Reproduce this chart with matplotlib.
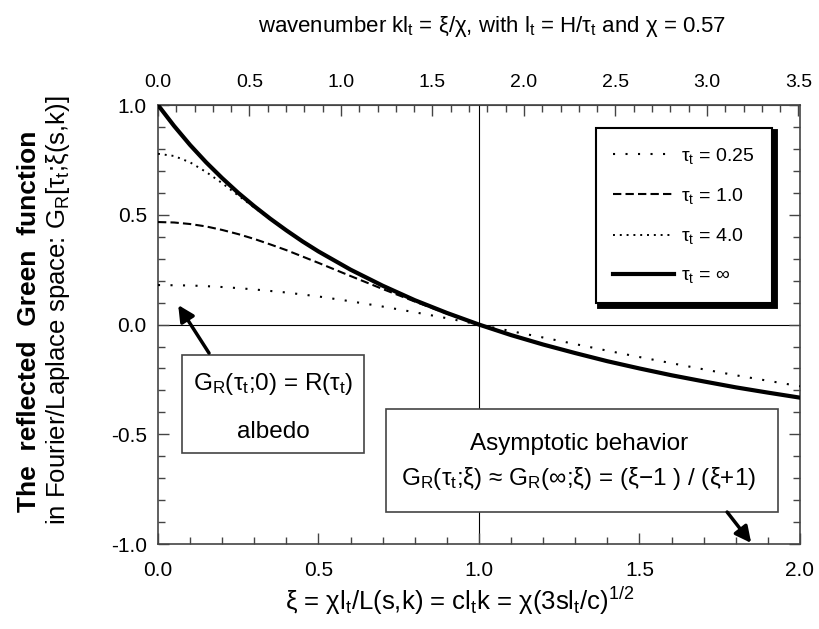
import numpy as np
import matplotlib
matplotlib.use('Agg')
import matplotlib.pyplot as plt
from matplotlib.ticker import MultipleLocator
from matplotlib.patches import Rectangle

plt.rcParams['font.family'] = ['Liberation Sans', 'DejaVu Sans']
plt.rcParams['mathtext.default'] = 'regular'

chi = 0.57

# xi = chi * l_t / L(s,k)
xi = [0.0, 0.05, 0.1, 0.15, 0.2, 0.25, 0.3, 0.35, 0.4, 0.45, 0.5, 0.6, 0.7, 0.8, 0.9, 1.0,
      1.1, 1.2, 1.3, 1.4, 1.5, 1.6, 1.7, 1.8, 1.9, 2.0]
g_025 = [0.180, 0.179, 0.178, 0.175, 0.171, 0.166, 0.160, 0.153, 0.146, 0.137, 0.128,
         0.106, 0.082, 0.056, 0.029, 0.0,
         -0.030, -0.059, -0.089, -0.119, -0.148, -0.176, -0.204, -0.231, -0.256, -0.281]
g_1 = [0.467, 0.465, 0.458, 0.447, 0.431, 0.412, 0.390, 0.365, 0.339, 0.310, 0.281,
       0.221, 0.162, 0.105, 0.050, 0.0,
       -0.047, -0.090, -0.129, -0.166, -0.199, -0.230, -0.259, -0.285, -0.310, -0.333]
g_4 = [0.778, 0.768, 0.739, 0.695, 0.644, 0.588, 0.533, 0.479, 0.427, 0.379, 0.333,
       0.250, 0.177, 0.111, 0.053, 0.0,
       -0.048, -0.091, -0.130, -0.167, -0.200, -0.231, -0.259, -0.286, -0.310, -0.333]
g_inf = [1.000, 0.905, 0.818, 0.739, 0.667, 0.600, 0.539, 0.482, 0.429, 0.379, 0.333,
         0.250, 0.177, 0.111, 0.053, 0.0,
         -0.048, -0.091, -0.130, -0.167, -0.200, -0.231, -0.259, -0.286, -0.310, -0.333]

labels = [r'τ$_t$ = 0.25', r'τ$_t$ = 1.0', r'τ$_t$ = 4.0', r'τ$_t$ = ∞']

fig = plt.figure(figsize=(8.19, 6.29), dpi=100)
ax = fig.add_axes([0.1929, 0.135, 0.7839, 0.698])

ax.axhline(0, color='black', lw=0.8, zorder=1)
ax.axvline(1, color='black', lw=0.8, zorder=1)

ax.plot(xi, g_025, color='black', lw=1.5, ls=(0, (1, 5)), label=labels[0], zorder=3)
ax.plot(xi, g_1, color='black', lw=1.5, ls=(0, (4, 2)), label=labels[1], zorder=3)
ax.plot(xi, g_4, color='black', lw=1.4, ls=(0, (1, 2.5)), label=labels[2], zorder=3)
ax.plot(xi, g_inf, color='black', lw=3.0, ls='-', label=labels[3], zorder=4)

ax.set_xlim(0, 2)
ax.set_ylim(-1, 1)
ax.xaxis.set_major_locator(MultipleLocator(0.5))
ax.xaxis.set_minor_locator(MultipleLocator(0.1))
ax.yaxis.set_major_locator(MultipleLocator(0.5))
ax.yaxis.set_minor_locator(MultipleLocator(0.1))
ax.xaxis.set_major_formatter(plt.FormatStrFormatter('%.1f'))
ax.yaxis.set_major_formatter(plt.FormatStrFormatter('%.1f'))
ax.tick_params(which='both', direction='in', right=True, labelsize=15, color='#444444')
ax.tick_params(which='major', length=8, width=1)
ax.tick_params(which='minor', length=5, width=1)
ax.tick_params(axis='x', pad=12)
ax.tick_params(axis='y', pad=8)
for s in ax.spines.values():
    s.set_color('#444444')
    s.set_linewidth(1.2)

top = ax.secondary_xaxis('top', functions=(lambda x: x / chi, lambda k: k * chi))
top.xaxis.set_major_locator(MultipleLocator(0.5))
top.xaxis.set_minor_locator(MultipleLocator(0.1))
top.xaxis.set_major_formatter(plt.FormatStrFormatter('%.1f'))
top.tick_params(which='both', direction='in', labelsize=14, color='#444444', pad=10)
top.tick_params(which='major', length=8, width=1)
top.tick_params(which='minor', length=5, width=1)
top.spines['top'].set_color('#444444')
top.set_xlabel(r'wavenumber kl$_t$ = ξ/χ, with l$_t$ = H/τ$_t$ and χ = 0.57',
               fontsize=16, labelpad=30)
top.xaxis.label.set_x(0.52)

ax.set_xlabel(r'ξ = χl$_t$/L(s,k) = cl$_t$k = χ(3sl$_t$/c)$^{1/2}$', fontsize=18.5, labelpad=4)
ax.xaxis.label.set_x(0.47)

fig.text(0.036, 0.186, 'The  reflected  Green  function', rotation=90, ha='center', va='bottom',
         fontsize=19, fontweight='bold')
fig.text(0.071, 0.165, r'in Fourier/Laplace space: G$_R$[τ$_t$;ξ(s,k)]', rotation=90,
         ha='center', va='bottom', fontsize=18.5)

leg = ax.legend(loc='upper right', bbox_to_anchor=(0.957, 0.9476), borderaxespad=0,
                fontsize=14, handlelength=3.1, handletextpad=0.4, labelspacing=1.05,
                borderpad=0.9, fancybox=False, framealpha=1, edgecolor='black',
                shadow={'color': 'black', 'alpha': 1, 'linewidth': 3.5})
leg.get_frame().set_linewidth(1.5)

# annotation boxes
box_kw = dict(facecolor='white', edgecolor='#444444', lw=1.2, zorder=5, transform=ax.transData)
ax.add_patch(Rectangle((0.0745, -0.585), 0.5685, 0.446, **box_kw))
ax.text(0.36, -0.271, r'G$_R$(τ$_t$;0) = R(τ$_t$)', ha='center', va='center', fontsize=17.5, zorder=6)
ax.text(0.36, -0.49, 'albedo', ha='center', va='center', fontsize=17.5, zorder=6)

ax.add_patch(Rectangle((0.711, -0.854), 1.221, 0.469, **box_kw))
ax.text(1.311, -0.545, 'Asymptotic behavior', ha='center', va='center', fontsize=17.5, zorder=6)
ax.text(1.311, -0.70, r'G$_R$(τ$_t$;ξ) ≈ G$_R$(∞;ξ) = (ξ−1 ) / (ξ+1)', ha='center', va='center',
        fontsize=17.5, zorder=6)

arrow_kw = dict(arrowstyle='-|>', color='black', lw=2.5, mutation_scale=24, shrinkA=0, shrinkB=0)
ax.annotate('', xy=(0.063, 0.089), xytext=(0.159, -0.13), arrowprops=arrow_kw, zorder=7)
ax.annotate('', xy=(1.848, -0.995), xytext=(1.773, -0.854), arrowprops=arrow_kw, zorder=7)

fig.savefig('out.png', dpi=100)
